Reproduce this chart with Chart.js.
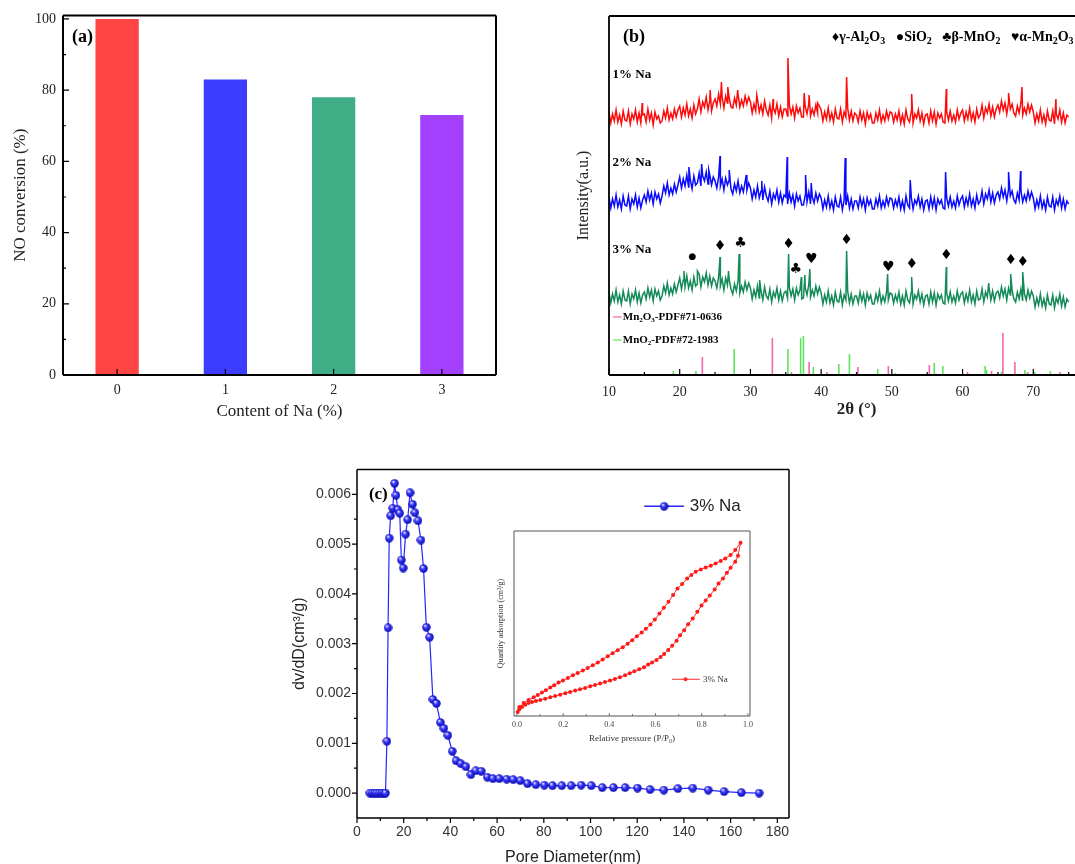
<!DOCTYPE html>
<html>
<head>
<meta charset="utf-8">
<script src="https://cdn.jsdelivr.net/npm/chart.js@4.4.0/dist/chart.umd.min.js"></script>
<style>
  html, body { margin: 0; padding: 0; background: #fff; overflow: hidden; width: 1075px; height: 864px; }
  canvas { position: absolute; }
</style>
</head>
<body>
<canvas id="chartA" width="540" height="430" style="left:0;top:0"></canvas>
<canvas id="chartB" width="560" height="430" style="left:560px;top:0"></canvas>
<canvas id="chartC" width="540" height="420" style="left:280px;top:455px"></canvas>
<canvas id="chartInset" width="290" height="240" style="left:480px;top:520px"></canvas>
<script>
// ---- (a) NO conversion vs Na content ----
const naContent = ['0', '1', '2', '3'];
const noConversion = [100, 83, 78, 73];
const barColors = ['#ff4444', '#3c3cff', '#3fae87', '#a340fd'];
const convTicks = [0, 20, 40, 60, 80, 100];
const convMinor = [10, 30, 50, 70, 90];

// ---- (b) XRD patterns (intensity in arbitrary units), 0.25 deg steps from 10 to 75 ----
const twoThetaTicks = [10, 20, 30, 40, 50, 60, 70, 80];
const twoThetaMinor = [15, 25, 35, 45, 55, 65, 75];
const twoTheta = [];
for (let a = 10; a <= 75.001; a += 0.25) twoTheta.push(+a.toFixed(2));

const xrd1 = [
  263,252,261,254,265,253,260,251,264,255,
  254,264,251,261,256,265,253,262,252,260,
  261,253,266,255,262,250,263,256,259,252,
  254,264,257,267,255,262,256,266,258,265,
  269,258,267,260,271,259,266,257,270,261,
  266,276,263,273,268,278,265,274,264,272,
  276,269,281,271,278,267,279,272,277,268,
  267,277,270,281,268,275,269,279,271,278,
  273,262,271,264,276,263,270,261,274,265,
  260,270,257,267,262,271,259,268,258,266,
  266,259,270,261,268,257,269,262,267,258,
  258,268,261,271,259,266,260,270,262,269,
  265,254,263,256,267,255,262,253,266,257,
  256,266,253,263,258,267,255,264,254,262,
  260,253,264,255,262,251,263,256,261,252,
  252,262,255,265,253,260,254,264,256,263,
  262,253,261,255,264,252,260,251,265,256,
  253,264,252,261,257,265,254,262,251,260,
  261,252,264,254,263,251,262,257,261,253,
  252,263,255,264,254,260,253,265,256,262,
  265,254,263,256,267,255,262,253,266,257,
  260,270,257,267,262,271,259,268,258,266,
  270,263,274,265,272,261,273,266,271,262,
  259,269,262,272,260,267,261,271,263,270,
  263,252,261,254,265,253,260,251,264,255,
  254,264,251,261,256,265,253,262,252,260,
  258];
const xrd1PeakPos = [14.7, 24.3, 25.9, 26.8, 28.2, 30.9, 33.2, 35.3, 37.6, 38.3, 39.5, 43.6, 52.8, 57.7, 66.5, 68.4, 73.2];
const xrd1PeakInt = [272, 285, 293, 288, 285, 280, 276, 317, 282, 280, 272, 298, 281, 286, 282, 288, 276];

const xrd2 = [
  178,167,176,169,180,168,175,166,179,170,
  169,179,166,176,171,180,168,177,167,175,
  180,173,184,175,182,171,183,176,181,172,
  179,189,182,192,180,187,181,191,183,190,
  198,187,196,189,200,188,195,186,199,190,
  192,202,189,199,194,203,191,200,190,198,
  194,187,198,189,196,185,197,190,195,186,
  181,191,184,194,182,189,183,193,185,192,
  187,176,185,178,189,177,184,175,188,179,
  174,184,171,181,176,185,173,182,172,180,
  178,171,182,173,180,169,181,174,179,170,
  170,180,173,183,171,178,172,182,174,181,
  177,166,175,168,179,167,174,165,178,169,
  168,178,165,175,170,179,167,176,166,174,
  174,167,178,169,176,165,177,170,175,166,
  166,176,169,179,167,174,168,178,170,177,
  176,167,175,169,178,166,174,165,179,170,
  167,178,166,175,171,179,168,176,165,174,
  175,166,178,168,177,165,176,171,175,167,
  166,177,169,178,168,174,167,179,170,176,
  179,168,177,170,181,169,176,167,180,171,
  174,184,171,181,176,185,173,182,172,180,
  183,176,187,178,185,174,186,179,184,175,
  172,182,175,185,173,180,174,184,176,183,
  177,166,175,168,179,167,174,165,178,169,
  168,178,165,175,170,179,167,176,166,174,
  171];
const xrd2PeakPos = [21.3, 23.1, 24.1, 25.7, 27.0, 29.4, 31.6, 35.2, 37.8, 38.6, 43.4, 52.6, 57.6, 66.5, 68.2];
const xrd2PeakInt = [208, 211, 205, 219, 205, 200, 194, 218, 200, 192, 217, 195, 203, 203, 204];

const xrd3 = [
  83,72,81,74,85,73,80,71,84,75,
  74,84,71,81,76,85,73,82,72,80,
  83,76,87,78,85,74,86,79,84,75,
  79,89,82,92,80,87,81,91,83,90,
  97,86,95,88,99,87,94,85,98,89,
  91,101,88,98,93,102,90,99,89,97,
  94,87,98,89,96,85,97,90,95,86,
  81,91,84,94,82,89,83,93,85,92,
  87,76,85,78,89,77,84,75,88,79,
  76,86,73,83,78,87,75,84,74,82,
  84,77,88,79,86,75,87,80,85,76,
  77,87,80,90,78,85,79,89,81,88,
  82,71,80,73,84,72,79,70,83,74,
  73,83,70,80,75,84,72,81,71,79,
  79,72,83,74,81,70,82,75,80,71,
  71,81,74,84,72,79,73,83,75,82,
  81,72,80,74,83,71,79,70,84,75,
  72,83,71,80,76,84,73,81,70,79,
  80,71,83,73,82,70,81,76,80,72,
  71,82,74,83,73,79,72,84,75,81,
  83,72,81,74,85,73,80,71,84,75,
  76,86,73,83,78,87,75,84,74,82,
  84,77,88,79,86,75,87,80,85,76,
  73,83,76,86,74,81,75,85,77,84,
  79,68,77,70,81,69,76,67,80,71,
  70,80,67,77,72,81,69,78,68,76,
  73];
const xrd3PeakPos = [20.6, 22.5, 25.7, 26.9, 28.4, 31.3, 35.4, 37.2, 37.7, 38.4, 43.6, 49.4, 52.8, 57.7, 63.7, 66.8, 68.5];
const xrd3PeakInt = [104, 104, 118, 104, 121, 95, 121, 98, 100, 106, 124, 101, 98, 108, 92, 101, 103];

// reference cards
const mn2o3Pos = [23.2, 33.1, 35.8, 38.3, 40.8, 45.2, 49.5, 55.3, 60.7, 64.1, 65.7, 67.4, 69.2, 73.8];
const mn2o3Int = [18, 37, 3, 13, 3, 8, 9, 10, 3, 4, 42, 13, 3, 3];
const mno2Pos = [19.1, 22.3, 27.7, 35.3, 37.1, 37.5, 38.9, 42.5, 44.0, 48.0, 50.5, 56.0, 57.2, 63.2, 63.4, 65.5, 68.8, 70.2, 72.4];
const mno2Int = [4, 4, 26, 26, 37, 39, 8, 11, 21, 6, 2, 12, 9, 9, 5, 3, 5, 3, 4];

// phase markers above the 3% Na pattern
const phaseMarks = ['●', '♦', '♣', '♦', '♣', '♥', '♦', '♥', '♦', '♦', '♦', '♦'];
const phaseMarkPos = [21.8, 25.7, 28.6, 35.4, 36.4, 38.6, 43.6, 49.5, 52.8, 57.7, 66.8, 68.5];
const phaseMarkInt = [118, 129, 132, 131, 106, 116, 135, 108, 111, 120, 115, 113];

// ---- (c) pore size distribution ----
const poreTicks = [0, 20, 40, 60, 80, 100, 120, 140, 160, 180];
const poreMinor = [10, 30, 50, 70, 90, 110, 130, 150, 170];
const dvTicks = [0, 0.001, 0.002, 0.003, 0.004, 0.005, 0.006];
const dvMinor = [0.0005, 0.0015, 0.0025, 0.0035, 0.0045, 0.0055];
const poreD = [5.5,6.5,7.5,8.5,9.5,10.5,11.5,12.2,
  12.8,13.3,13.8,14.4,15.3,16.1,16.7,17.5,18.3,19.0,
  19.8,20.8,21.7,22.7,23.8,24.8,26.1,27.4,28.5,29.7,
  31.1,32.5,34.0,35.7,37.2,38.9,40.8,42.4,44.5,46.6,
  48.8,50.9,53.2,55.8,58.2,60.9,64.1,66.9,69.9,73.0,
  76.6,80.2,83.7,87.7,91.7,96.0,100.3,105.0,109.8,114.8,
  120.1,125.5,131.4,137.4,143.8,150.4,157.2,164.6,172.2];
const dvdD = [0,0,0,0,0,0,0,0,
  0.00104,0.00332,0.00512,0.00557,0.00572,0.00622,0.00598,0.00569,0.00562,0.00468,
  0.00452,0.0052,0.00549,0.00603,0.0058,0.00563,0.00547,0.00508,0.00451,0.00333,
  0.00313,0.00188,0.0018,0.00142,0.0013,0.00116,0.00084,0.00065,0.00059,0.00053,
  0.00037,0.00045,0.00044,0.00032,0.00029,0.00029,0.00028,0.00027,0.00025,0.00019,
  0.00017,0.00016,0.00015,0.00015,0.00015,0.00016,0.00015,0.00011,0.00011,0.00011,
  0.0001,0.00007,0.00006,0.00009,0.0001,0.00006,0.00003,0.00001,0];

// inset: N2 isotherm (quantity in arbitrary units)
const pTicks = [0, 0.2, 0.4, 0.6, 0.8, 1.0];
const pMinor = [0.1, 0.3, 0.5, 0.7, 0.9];
const adsP = [0.003,0.010,0.022,0.036,0.050,0.065,0.082,0.101,0.122,0.144,0.165,0.187,0.209,0.230,0.252,0.273,0.295,0.317,0.338,0.360,0.381,0.403,0.424,0.446,0.468,0.488,0.508,0.529,0.550,0.568,0.585,0.604,0.622,0.637,0.655,0.672,0.691,0.706,0.724,0.741,0.761,0.781,0.799,0.817,0.835,0.856,0.873,0.892,0.909,0.925,0.945,0.957,0.968];
const adsQ = [12,20,27,34,39,42,45,48,52,56,60,64,68,72,76,80,84,89,93,97,102,106,111,116,122,128,134,140,146,154,160,168,177,186,198,210,225,242,257,275,292,312,331,346,361,379,397,412,429,444,462,480,519];
const desP = [0.945,0.925,0.902,0.882,0.860,0.839,0.817,0.796,0.774,0.755,0.737,0.715,0.695,0.676,0.656,0.636,0.617,0.597,0.578,0.558,0.540,0.519,0.499,0.479,0.458,0.436,0.414,0.393,0.371,0.350,0.328,0.306,0.285,0.263,0.242,0.220,0.199,0.180,0.161,0.144,0.125,0.108,0.090,0.072,0.050,0.029,0.010];
const desQ = [497,482,472,464,457,450,445,439,432,422,412,395,382,362,342,324,307,289,274,261,250,239,227,216,206,197,188,179,169,160,152,144,136,129,122,114,106,100,92,85,77,70,63,56,48,39,27];

const SERIF = "'Liberation Serif', 'DejaVu Serif', serif";
const SANS = "'Liberation Sans', Arial, sans-serif";

// text with _x subscripts and ^x superscripts
function drawRich(ctx, str, x, y, size, family, weight, align) {
  const parts = [];
  for (let i = 0; i < str.length; i++) {
    const c = str[i];
    if ((c === '_' || c === '^') && i + 1 < str.length) {
      parts.push({ t: str[i + 1], s: c === '_' ? 1 : -1 });
      i++;
    } else if (parts.length && parts[parts.length - 1].s === 0) {
      parts[parts.length - 1].t += c;
    } else {
      parts.push({ t: c, s: 0 });
    }
  }
  const fontFor = s => `${weight} ${s ? Math.round(size * 0.68) : size}px ${family}`;
  let w = 0;
  parts.forEach(p => { ctx.font = fontFor(p.s); p.w = ctx.measureText(p.t).width; w += p.w; });
  let cx = align === 'center' ? x - w / 2 : align === 'right' ? x - w : x;
  ctx.textAlign = 'left';
  ctx.textBaseline = 'middle';
  parts.forEach(p => {
    ctx.font = fontFor(p.s);
    ctx.fillText(p.t, cx, y + p.s * size * 0.3);
    cx += p.w;
  });
}

function makeBall(size) {
  const c = document.createElement('canvas');
  c.width = c.height = size;
  const g = c.getContext('2d');
  const r = size / 2;
  const grad = g.createRadialGradient(r * 0.7, r * 0.6, r * 0.1, r, r, r);
  grad.addColorStop(0, '#e0e0ff');
  grad.addColorStop(0.35, '#3d3dff');
  grad.addColorStop(1, '#0000a8');
  g.fillStyle = grad;
  g.beginPath();
  g.arc(r, r, r - 0.3, 0, Math.PI * 2);
  g.fill();
  return c;
}
const ball = makeBall(9);

// frame, tick marks, legend samples and free text for each panel
const panelDeco = {
  id: 'panelDeco',
  afterDatasetsDraw(chart, args, o) {
    const { ctx, chartArea: a, scales } = chart;
    const px = it => it.data ? scales.x.getPixelForValue(it.x) : a.left + it.dx;
    const py = it => it.data ? scales.y.getPixelForValue(it.y) : a.top + it.dy;
    ctx.save();
    ctx.strokeStyle = o.frameColor || '#000';
    ctx.lineWidth = o.frameWidth || 1.5;
    ctx.beginPath();
    (o.frame || []).forEach(side => {
      if (side === 'top') { ctx.moveTo(a.left, a.top); ctx.lineTo(a.right, a.top); }
      if (side === 'right') { ctx.moveTo(a.right, a.top); ctx.lineTo(a.right, a.bottom); }
      if (side === 'bottom') { ctx.moveTo(a.left, a.bottom); ctx.lineTo(a.right, a.bottom); }
      if (side === 'left') { ctx.moveTo(a.left, a.top); ctx.lineTo(a.left, a.bottom); }
    });
    ctx.stroke();
    ctx.lineWidth = o.tickWidth || 1.2;
    (o.ticks || []).forEach(t => {
      const s = scales[t.axis];
      ctx.beginPath();
      t.values.forEach(v => {
        const p = s.getPixelForValue(v);
        if (t.axis === 'x') { ctx.moveTo(p, a.bottom); ctx.lineTo(p, a.bottom - t.len); }
        else { ctx.moveTo(a.left, p); ctx.lineTo(a.left + t.len, p); }
      });
      ctx.stroke();
    });
    (o.samples || []).forEach(sm => {
      const y = scales.y.getPixelForValue(sm.y);
      ctx.strokeStyle = sm.color;
      ctx.lineWidth = sm.width;
      ctx.beginPath();
      ctx.moveTo(scales.x.getPixelForValue(sm.x1), y);
      ctx.lineTo(scales.x.getPixelForValue(sm.x2), y);
      ctx.stroke();
      if (sm.marker === 'ball') {
        const mx = scales.x.getPixelForValue(sm.mx);
        ctx.drawImage(ball, mx - ball.width / 2, y - ball.height / 2);
      } else if (sm.marker === 'dot') {
        ctx.fillStyle = sm.color;
        ctx.beginPath();
        ctx.arc(scales.x.getPixelForValue(sm.mx), y, 2, 0, Math.PI * 2);
        ctx.fill();
      }
    });
    (o.texts || []).forEach(it => {
      ctx.fillStyle = it.color || '#000';
      drawRich(ctx, it.t, px(it), py(it), it.size, it.family || SERIF, it.weight || 'normal', it.align || 'left');
    });
    ctx.restore();
  }
};

const noGrid = { display: false, drawTicks: false };
const noBorder = { display: false };
const setTicks = arr => s => { s.ticks = arr.map(v => ({ value: v })); };

// ---------- (a) ----------
new Chart(document.getElementById('chartA'), {
  type: 'bar',
  data: {
    labels: naContent,
    datasets: [{ data: noConversion, backgroundColor: barColors, borderWidth: 0, barPercentage: 0.4, categoryPercentage: 1 }]
  },
  options: {
    responsive: false, animation: false,
    layout: { padding: { top: 15, right: 44, left: 0, bottom: 0 } },
    plugins: {
      legend: { display: false }, tooltip: { enabled: false },
      panelDeco: {
        frame: ['top', 'right', 'bottom', 'left'], frameWidth: 2,
        ticks: [
          { axis: 'x', values: [0, 1, 2, 3], len: 6 },
          { axis: 'y', values: convTicks, len: 6 },
          { axis: 'y', values: convMinor, len: 3 }
        ],
        texts: [{ t: '(a)', dx: 9, dy: 22, size: 18, weight: 'bold' }]
      }
    },
    scales: {
      x: {
        grid: noGrid, border: noBorder,
        ticks: { font: { family: SERIF, size: 14 }, color: '#222', padding: 7 },
        title: { display: true, text: 'Content of Na (%)', font: { family: SERIF, size: 17 }, color: '#222', padding: { bottom: 8 } },
        afterFit: s => { s.height = 55; }
      },
      y: {
        min: 0, max: 101,
        grid: noGrid, border: noBorder,
        afterBuildTicks: setTicks(convTicks),
        ticks: { font: { family: SERIF, size: 14 }, color: '#222', padding: 7 },
        title: { display: true, text: 'NO conversion (%)', font: { family: SERIF, size: 17 }, color: '#222', padding: { top: 10 } },
        afterFit: s => { s.width = 63; }
      }
    }
  },
  plugins: [panelDeco]
});

// ---------- (b) ----------
function tracePoints(vals, peakPos, peakInt) {
  const pts = twoTheta.map((t, i) => ({ x: t, y: vals[i] }));
  peakPos.forEach((p, i) => pts.push({ x: p, y: peakInt[i] }));
  return pts.sort((u, v) => u.x - v.x);
}
function stickPoints(pos, ints) {
  const pts = [];
  pos.forEach((p, i) => { pts.push({ x: p, y: 0 }, { x: p, y: ints[i] }, { x: p, y: null }); });
  return pts;
}
const lineDs = (data, color, width) => ({ data, borderColor: color, borderWidth: width, pointRadius: 0, fill: false, tension: 0, spanGaps: false });

new Chart(document.getElementById('chartB'), {
  type: 'line',
  data: {
    datasets: [
      lineDs(stickPoints(mn2o3Pos, mn2o3Int), '#f466aa', 1.6),
      lineDs(stickPoints(mno2Pos, mno2Int), '#5fe35f', 1.6),
      lineDs(tracePoints(xrd1, xrd1PeakPos, xrd1PeakInt), '#ff0a0a', 1.5),
      lineDs(tracePoints(xrd2, xrd2PeakPos, xrd2PeakInt), '#0a0aff', 1.5),
      lineDs(tracePoints(xrd3, xrd3PeakPos, xrd3PeakInt), '#138a58', 1.5)
    ]
  },
  options: {
    responsive: false, animation: false,
    layout: { padding: { top: 16, right: 2.3, left: 0, bottom: 0 } },
    plugins: {
      legend: { display: false }, tooltip: { enabled: false },
      panelDeco: {
        frame: ['top', 'bottom', 'left'], frameWidth: 1.8,
        ticks: [
          { axis: 'x', values: twoThetaTicks, len: 6 },
          { axis: 'x', values: twoThetaMinor, len: 3 }
        ],
        samples: [
          { x1: 10.55, x2: 11.8, y: 58, color: '#f466aa', width: 1.2 },
          { x1: 10.55, x2: 11.8, y: 35, color: '#5fe35f', width: 1.2 }
        ],
        texts: [
          { t: '(b)', dx: 14, dy: 21, size: 18, weight: 'bold' },
          { t: '♦γ-Al_2O_3   ●SiO_2   ♣β-MnO_2   ♥α-Mn_2O_3', dx: 223, dy: 21, size: 14, weight: 'bold' },
          { t: '1% Na', data: true, x: 10.5, y: 300, size: 13, weight: 'bold' },
          { t: '2% Na', data: true, x: 10.5, y: 212, size: 13, weight: 'bold' },
          { t: '3% Na', data: true, x: 10.5, y: 125, size: 13, weight: 'bold' },
          { t: 'Mn_2O_3-PDF#71-0636', data: true, x: 11.95, y: 58, size: 11, weight: 'bold' },
          { t: 'MnO_2-PDF#72-1983', data: true, x: 11.95, y: 35, size: 11, weight: 'bold' }
        ].concat(phaseMarks.map((m, i) => ({
          t: m, data: true, x: phaseMarkPos[i], y: phaseMarkInt[i],
          size: m === '●' ? 9 : 14, family: "'DejaVu Sans', sans-serif", align: 'center'
        })))
      }
    },
    scales: {
      x: {
        type: 'linear', min: 10, max: 80,
        grid: noGrid, border: noBorder,
        afterBuildTicks: setTicks(twoThetaTicks),
        ticks: { font: { family: SERIF, size: 14 }, color: '#222', padding: 9 },
        title: { display: true, text: '2θ (°)', font: { family: SERIF, size: 17, weight: 'bold' }, color: '#222', padding: { bottom: 10 } },
        afterFit: s => { s.height = 55; }
      },
      y: {
        min: 0, max: 359,
        grid: noGrid, border: noBorder,
        ticks: { display: false },
        title: { display: true, text: 'Intensity(a.u.)', font: { family: SERIF, size: 16 }, color: '#222', padding: { top: 14 } },
        afterFit: s => { s.width = 49; }
      }
    }
  },
  plugins: [panelDeco]
});

// ---------- (c) ----------
new Chart(document.getElementById('chartC'), {
  type: 'line',
  data: {
    datasets: [{
      data: poreD.map((d, i) => ({ x: d, y: dvdD[i] })),
      borderColor: '#2525ff', borderWidth: 1.2,
      pointStyle: ball, pointRadius: 4.5, tension: 0, fill: false
    }]
  },
  options: {
    responsive: false, animation: false,
    layout: { padding: { top: 13, right: 31, left: 0, bottom: 0 } },
    plugins: {
      legend: { display: false }, tooltip: { enabled: false },
      panelDeco: {
        frame: ['top', 'right', 'bottom', 'left'], frameWidth: 1.5,
        ticks: [
          { axis: 'x', values: poreTicks, len: -5 },
          { axis: 'x', values: poreMinor, len: -3 },
          { axis: 'y', values: dvTicks, len: -5 },
          { axis: 'y', values: dvMinor, len: -3 }
        ],
        samples: [{ x1: 123, x2: 140, mx: 131.5, y: 0.00576, color: '#2525ff', width: 1.5, marker: 'ball' }],
        texts: [
          { t: '(c)', data: true, x: 5.1, y: 0.006, size: 17, weight: 'bold' },
          { t: '3% Na', data: true, x: 142.5, y: 0.00576, size: 17, family: SANS, color: '#222' }
        ]
      }
    },
    scales: {
      x: {
        type: 'linear', min: 0, max: 185,
        grid: noGrid, border: noBorder,
        afterBuildTicks: setTicks(poreTicks),
        ticks: { font: { family: SANS, size: 14 }, color: '#333', padding: 5.5 },
        title: { display: true, text: 'Pore Diameter(nm)', font: { family: SANS, size: 16 }, color: '#222', padding: { bottom: 8 } },
        afterFit: s => { s.height = 57; }
      },
      y: {
        min: -0.0005, max: 0.0065,
        grid: noGrid, border: noBorder,
        afterBuildTicks: setTicks(dvTicks),
        ticks: { font: { family: SANS, size: 14 }, color: '#333', padding: 6, callback: v => v.toFixed(3) },
        title: { display: true, text: 'dv/dD(cm³/g)', font: { family: SANS, size: 16 }, color: '#222', padding: { top: 10 } },
        afterFit: s => { s.width = 77; }
      }
    }
  },
  plugins: [panelDeco]
});

// ---------- inset ----------
const insetBg = {
  id: 'insetBg',
  beforeDraw(chart) {
    const { ctx, chartArea: a } = chart;
    ctx.save();
    ctx.fillStyle = '#fff';
    ctx.fillRect(a.left, a.top, a.right - a.left, a.bottom - a.top);
    ctx.restore();
  }
};
new Chart(document.getElementById('chartInset'), {
  type: 'line',
  data: {
    datasets: [{
      data: adsP.map((p, i) => ({ x: p, y: adsQ[i] })).concat(desP.map((p, i) => ({ x: p, y: desQ[i] }))),
      borderColor: '#ff2a2a', backgroundColor: '#ff1a1a', borderWidth: 1,
      pointStyle: 'circle', pointRadius: 2, pointBorderWidth: 0, tension: 0, fill: false
    }]
  },
  options: {
    responsive: false, animation: false,
    layout: { padding: { top: 11, right: 20, left: 0, bottom: 0 } },
    plugins: {
      legend: { display: false }, tooltip: { enabled: false },
      panelDeco: {
        frame: ['top', 'right', 'bottom', 'left'], frameWidth: 1, frameColor: '#555', tickWidth: 0.8,
        ticks: [
          { axis: 'x', values: pTicks, len: 3 },
          { axis: 'x', values: pMinor, len: 2 }
        ],
        samples: [{ x1: 0.671, x2: 0.792, mx: 0.73, y: 110, color: '#ff2a2a', width: 1, marker: 'dot' }],
        texts: [{ t: '3% Na', data: true, x: 0.805, y: 110, size: 9, color: '#333' }]
      }
    },
    scales: {
      x: {
        type: 'linear', min: -0.013, max: 1.009,
        grid: noGrid, border: noBorder,
        afterBuildTicks: setTicks(pTicks),
        ticks: { font: { family: SERIF, size: 8 }, color: '#444', padding: 4, callback: v => v.toFixed(1) },
        title: { display: true, text: 'Relative pressure (P/P₀)', font: { family: SERIF, size: 9 }, color: '#333', padding: { bottom: 16 } },
        afterFit: s => { s.height = 44; }
      },
      y: {
        min: 0, max: 554,
        grid: noGrid, border: noBorder,
        ticks: { display: false },
        title: { display: true, text: 'Quantity adsorption (cm³/g)', font: { family: SERIF, size: 8 }, color: '#333', padding: { top: 16 } },
        afterFit: s => { s.width = 34; }
      }
    }
  },
  plugins: [insetBg, panelDeco]
});
</script>
</body>
</html>
